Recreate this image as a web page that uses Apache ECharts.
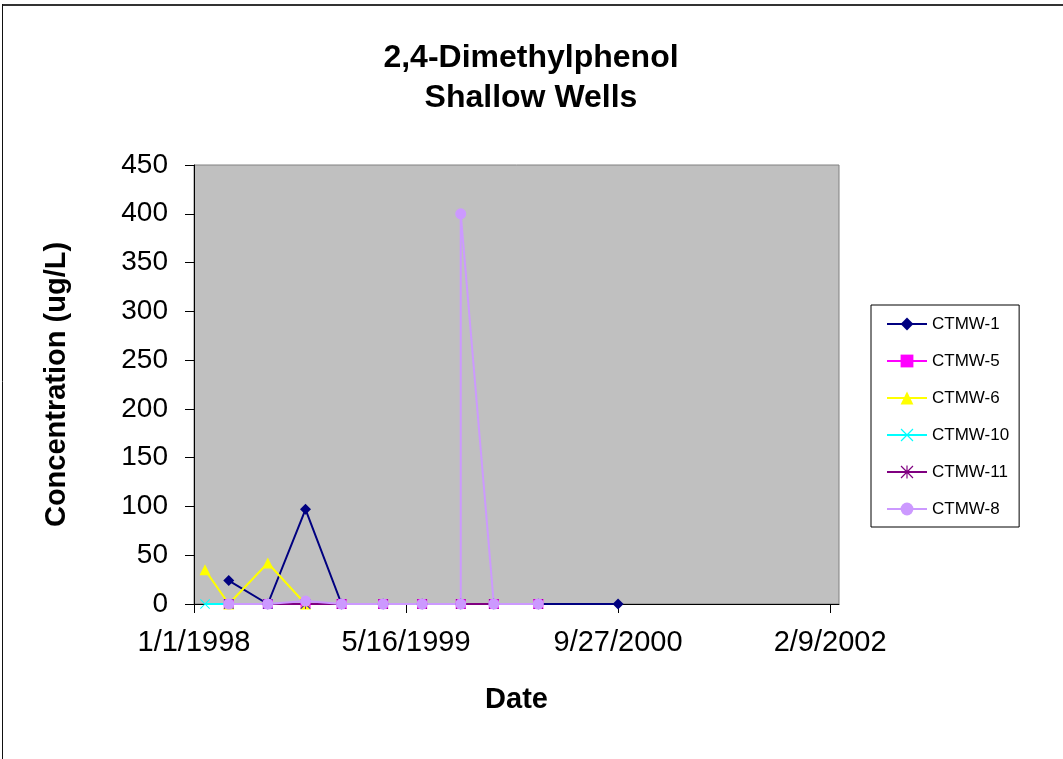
<!DOCTYPE html>
<html>
<head>
<meta charset="utf-8">
<script src="https://cdn.jsdelivr.net/npm/echarts@6/dist/echarts.min.js"></script>
<style>
html,body{margin:0;padding:0;background:#fff;}
#chart{width:1063px;height:759px;}
</style>
</head>
<body>
<div id="chart"></div>
<script>
// ---- data ----
const startDate = '1998-01-01';
const endDate = '2002-03-02';
const tickDates = ['1998-01-01', '1999-05-16', '2000-09-27', '2002-02-09'];
const yTicks = [0, 50, 100, 150, 200, 250, 300, 350, 400, 450];

const seriesNames = ['CTMW-1', 'CTMW-5', 'CTMW-6', 'CTMW-10', 'CTMW-11', 'CTMW-8'];

const ctmw1Dates = ['1998-03-24', '1998-06-24', '1998-09-21', '1998-12-15', '1999-03-23', '1999-06-23', '1999-09-22', '1999-12-09', '2000-03-23', '2000-09-27'];
const ctmw1Values = [24, 0, 97, 0, 0, 0, 0, 0, 0, 0];

const ctmw5Dates = ['1998-03-24', '1998-06-24', '1998-09-21', '1998-12-15', '1999-03-23', '1999-06-23', '1999-09-22', '1999-12-09', '2000-03-23'];
const ctmw5Values = [0, 0, 0, 0, 0, 0, 0, 0, 0];

const ctmw6Dates = ['1998-01-27', '1998-03-24', '1998-06-24', '1998-09-21'];
const ctmw6Values = [35, 0, 42, 0];

const ctmw10Dates = ['1998-01-27', '1998-03-24', '1998-06-24', '1998-09-21'];
const ctmw10Values = [0, 0, 0, 0];

const ctmw11Dates = ['1998-03-24', '1998-06-24', '1998-09-21', '1998-12-15', '1999-03-23', '1999-06-23', '1999-09-22', '1999-12-09', '2000-03-23'];
const ctmw11Values = [0, 0, 0, 0, 0, 0, 0, 0, 0];

const ctmw8Dates = ['1998-03-24', '1998-06-24', '1998-09-21', '1998-12-15', '1999-03-23', '1999-06-23', '1999-09-22', '1999-09-22', '1999-12-09', '2000-03-23'];
const ctmw8Values = [0, 0, 3, 0, 0, 0, 0, 400, 0, 0];

// ---- helpers ----
const DAY = 86400000;
function toUTC(s) { const p = s.split('-').map(Number); return Date.UTC(p[0], p[1] - 1, p[2]); }
const t0 = toUTC(startDate);
function dayOf(s) { return Math.round((toUTC(s) - t0) / DAY); }
function fmtDay(d) {
  const dt = new Date(t0 + d * DAY);
  return (dt.getUTCMonth() + 1) + '/' + dt.getUTCDate() + '/' + dt.getUTCFullYear();
}
function pairs(dates, vals) { return dates.map((d, i) => [dayOf(d), vals[i]]); }

const FONT = '"Liberation Sans", Arial, Helvetica, sans-serif';
const asterisk = 'path://M9.1 0L10.9 0L10.9 20L9.1 20Z M0 1.3L1.3 0L20 18.7L18.7 20Z M18.7 0L20 1.3L1.3 20L0 18.7Z';
const cross = 'path://M0 1.3L1.3 0L20 18.7L18.7 20Z M18.7 0L20 1.3L1.3 20L0 18.7Z';

function mk(name, data, color, symbol, size) {
  return {
    name: name, type: 'line', data: data,
    symbol: symbol, symbolSize: size, showSymbol: true,
    lineStyle: { color: color, width: 2 },
    itemStyle: { color: color, borderWidth: 0 },
    emphasis: { disabled: true },
    animation: false
  };
}

const chart = echarts.init(document.getElementById('chart'), null, { renderer: 'canvas' });
chart.setOption({
  backgroundColor: '#ffffff',
  animation: false,
  title: {
    text: '2,4-Dimethylphenol\nShallow Wells',
    left: 531, top: 38, textAlign: 'center', padding: 0,
    textStyle: { fontFamily: FONT, fontSize: 32, fontWeight: 'bold', color: '#000', lineHeight: 40 }
  },
  graphic: [
    { type: 'line', shape: { x1: 2, y1: 5, x2: 1063, y2: 5 }, style: { stroke: '#333', lineWidth: 2 }, silent: true },
    { type: 'line', shape: { x1: 2.5, y1: 4, x2: 2.5, y2: 759 }, style: { stroke: '#111', lineWidth: 1 }, silent: true }
  ],
  grid: {
    left: 194, right: 224, top: 165, bottom: 155,
    show: true, backgroundColor: '#c0c0c0', borderColor: '#808080', borderWidth: 1
  },
  legend: {
    orient: 'vertical', left: 871, top: 305,
    padding: [9, 10, 8, 15],
    itemWidth: 40, itemHeight: 16, itemGap: 17,
    borderColor: '#000', borderWidth: 1,
    backgroundColor: '#fff',
    lineStyle: { width: 2 },
    textStyle: { fontFamily: FONT, fontSize: 17, color: '#000', lineHeight: 20, padding: [0, 0, 0, 0] },
    data: seriesNames
  },
  xAxis: {
    type: 'value', min: 0, max: dayOf(endDate), interval: 500,
    name: 'Date', nameLocation: 'middle', nameGap: 81,
    nameTextStyle: { fontFamily: FONT, fontSize: 29, fontWeight: 'bold', color: '#000' },
    splitLine: { show: false },
    axisLine: { lineStyle: { color: '#000', width: 1 } },
    axisTick: { show: true, length: 9, lineStyle: { color: '#000' }, customValues: tickDates.map(dayOf) },
    axisLabel: {
      fontFamily: FONT, fontSize: 29, color: '#000', margin: 24,
      customValues: tickDates.map(dayOf),
      formatter: v => fmtDay(v)
    }
  },
  yAxis: {
    type: 'value', min: yTicks[0], max: yTicks[yTicks.length - 1], interval: 50,
    name: 'Concentration (ug/L)', nameLocation: 'middle', nameGap: 123, nameRotate: 90,
    nameTextStyle: { fontFamily: FONT, fontSize: 29, fontWeight: 'bold', color: '#000' },
    splitLine: { show: false },
    axisLine: { show: true, lineStyle: { color: '#000', width: 1 } },
    axisTick: { show: true, length: 9, lineStyle: { color: '#000' } },
    axisLabel: { fontFamily: FONT, fontSize: 28, color: '#000', margin: 26 }
  },
  series: [
    mk('CTMW-1', pairs(ctmw1Dates, ctmw1Values), '#000080', 'diamond', 11),
    mk('CTMW-5', pairs(ctmw5Dates, ctmw5Values), '#ff00ff', 'rect', 10),
    mk('CTMW-6', pairs(ctmw6Dates, ctmw6Values), '#ffff00', 'triangle', 11),
    mk('CTMW-10', pairs(ctmw10Dates, ctmw10Values), '#00ffff', cross, 10),
    mk('CTMW-11', pairs(ctmw11Dates, ctmw11Values), '#800080', asterisk, 10),
    mk('CTMW-8', pairs(ctmw8Dates, ctmw8Values), '#cc99ff', 'circle', 11)
  ]
});
</script>
</body>
</html>
